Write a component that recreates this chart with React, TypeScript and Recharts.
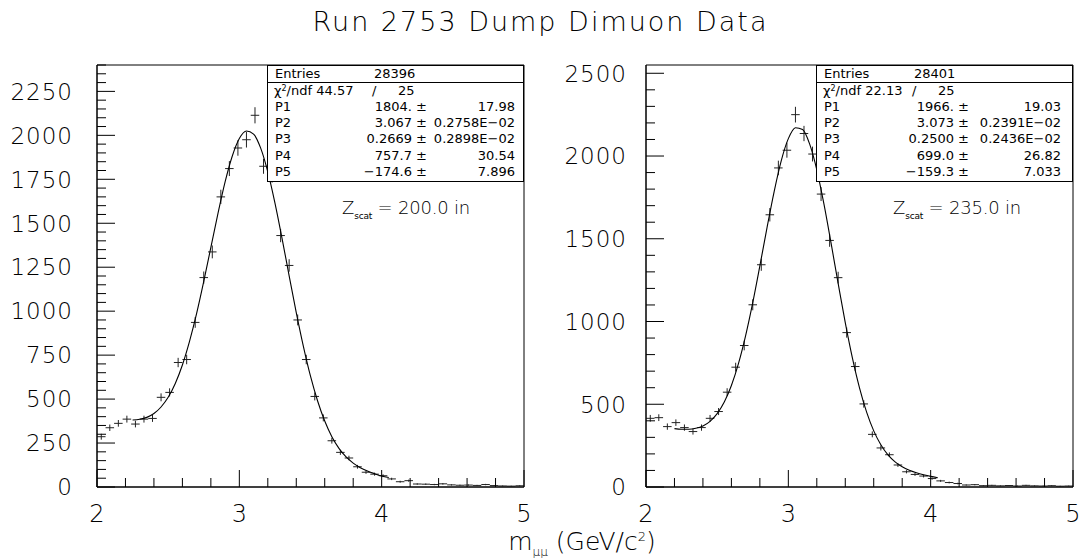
import React from 'react';
import {
  ComposedChart,
  Scatter,
  Line,
  XAxis,
  YAxis,
  ErrorBar,
  ReferenceArea,
} from 'recharts';

const FONT = '"DejaVu Sans", "Liberation Sans", sans-serif';

// bin centres of the m_mumu histogram (GeV/c^2), 0.06 wide bins
const binCenters = [
  2.03, 2.09, 2.15, 2.21, 2.27, 2.33, 2.39, 2.45, 2.51, 2.57,
  2.63, 2.69, 2.75, 2.81, 2.87, 2.93, 2.99, 3.05, 3.11, 3.17,
  3.23, 3.29, 3.35, 3.41, 3.47, 3.53, 3.59, 3.65, 3.71, 3.77,
  3.83, 3.89, 3.95, 4.01, 4.07, 4.13, 4.19, 4.25, 4.31, 4.37,
  4.43, 4.49, 4.55, 4.61, 4.67, 4.73, 4.79, 4.85, 4.91, 4.97,
];

// Z_scat = 200 in
const countsZ200 = [
  286, 337, 362, 386, 358, 386, 390, 510, 538, 708,
  725, 936, 1191, 1337, 1650, 1811, 1928, 1975, 2114, 1824,
  1773, 1430, 1260, 950, 725, 515, 393, 263, 197, 165,
  115, 84, 73, 64, 46, 30, 36, 17, 16, 14,
  18, 12, 10, 11, 9, 14, 8, 6, 5, 7,
];

// Z_scat = 235 in
const countsZ235 = [
  415, 419, 365, 389, 359, 335, 359, 415, 456, 573,
  724, 855, 1101, 1343, 1645, 1928, 2035, 2250, 2136, 2012,
  1770, 1490, 1265, 933, 728, 502, 318, 236, 195, 133,
  92, 76, 66, 51, 37, 27, 21, 12, 14, 8,
  10, 7, 9, 6, 10, 7, 6, 8, 5, 6,
];

// fitted curves
const fitXZ200 = [
  2.25, 2.3, 2.35, 2.4, 2.45, 2.5, 2.55, 2.6, 2.65, 2.7,
  2.75, 2.8, 2.85, 2.9, 2.95, 3.0, 3.05, 3.1, 3.15, 3.2,
  3.25, 3.3, 3.35, 3.4, 3.45, 3.5, 3.55, 3.6, 3.65, 3.7,
  3.75, 3.8, 3.85, 3.9, 3.95, 4.0, 4.05,
];
const fitZ200 = [
  381, 385, 396, 418, 455, 510, 589, 694, 828, 987,
  1169, 1363, 1556, 1735, 1881, 1982, 2025, 2007, 1927, 1792,
  1616, 1414, 1201, 992, 800, 630, 489, 375, 286, 220,
  171, 136, 110, 91, 76, 63, 54,
];
const fitXZ235 = [
  2.2, 2.25, 2.3, 2.35, 2.4, 2.45, 2.5, 2.55, 2.6, 2.65,
  2.7, 2.75, 2.8, 2.85, 2.9, 2.95, 3.0, 3.05, 3.1, 3.15,
  3.2, 3.25, 3.3, 3.35, 3.4, 3.45, 3.5, 3.55, 3.6, 3.65,
  3.7, 3.75, 3.8, 3.85, 3.9, 3.95, 4.0, 4.05,
];
const fitZ235 = [
  353, 349, 349, 355, 369, 397, 443, 513, 613, 747,
  915, 1114, 1336, 1566, 1784, 1971, 2105, 2171, 2160, 2072,
  1917, 1711, 1475, 1230, 993, 780, 599, 452, 339, 255,
  194, 152, 122, 101, 86, 74, 64, 56,
];

const xTicks = [
  2, 2.2, 2.4, 2.6, 2.8, 3, 3.2, 3.4, 3.6, 3.8,
  4, 4.2, 4.4, 4.6, 4.8, 5,
];
const xMajor = [2, 3, 4, 5];
const yMajorZ200 = [0, 250, 500, 750, 1000, 1250, 1500, 1750, 2000, 2250];
const yMajorZ235 = [0, 500, 1000, 1500, 2000, 2500];

const statsZ200 = {
  entries: '28396',
  chi2: '44.57',
  ndf: '25',
  params: [
    ['P1', '1804. ±', '17.98'],
    ['P2', '3.067 ±', '0.2758E−02'],
    ['P3', '0.2669 ±', '0.2898E−02'],
    ['P4', '757.7 ±', '30.54'],
    ['P5', '−174.6 ±', '7.896'],
  ],
};
const statsZ235 = {
  entries: '28401',
  chi2: '22.13',
  ndf: '25',
  params: [
    ['P1', '1966. ±', '19.03'],
    ['P2', '3.073 ±', '0.2391E−02'],
    ['P3', '0.2500 ±', '0.2436E−02'],
    ['P4', '699.0 ±', '26.82'],
    ['P5', '−159.3 ±', '7.033'],
  ],
};

const HALF_BIN = 0.03;

const YTick = (props: any) => {
  const { x, y, payload, majors, gap } = props;
  const isMajor = majors.includes(payload.value);
  return (
    <g>
      <line x1={x} x2={x + (isMajor ? 18 : 9)} y1={y} y2={y} stroke="#000" strokeWidth={1} />
      {isMajor && (
        <text
          x={x - gap}
          y={y}
          dy="0.36em"
          textAnchor="end"
          fontFamily={FONT}
          fontWeight={200}
          fontSize={23}
          letterSpacing={1}
          fill="#000"
        >
          {payload.value}
        </text>
      )}
    </g>
  );
};

const XTick = (props: any) => {
  const { x, y, payload } = props;
  const isMajor = xMajor.includes(payload.value);
  return (
    <g>
      <line x1={x} x2={x} y1={y} y2={y - (isMajor ? 17 : 9)} stroke="#000" strokeWidth={1} />
      {isMajor && (
        <text
          x={x}
          y={y + 26}
          dy="0.36em"
          textAnchor="middle"
          fontFamily={FONT}
          fontWeight={200}
          fontSize={24}
          fill="#000"
        >
          {payload.value}
        </text>
      )}
    </g>
  );
};

const Panel = ({ counts, fitX, fit, yMax, yMajor, yStep, left, width, marginLeft, marginRight, gap }: any) => {
  const points = binCenters.map((x, i) => ({
    x,
    y: counts[i],
    ey: Math.sqrt(counts[i]),
    ex: HALF_BIN,
  }));
  const curve = fitX.map((x: number, i: number) => ({ x, y: fit[i] }));
  const yTicks: number[] = [];
  for (let v = 0; v <= yMax; v += yStep) yTicks.push(v);

  return (
    <div style={{ position: 'absolute', left, top: 0 }}>
      <ComposedChart
        width={width}
        height={558}
        margin={{ top: 65, right: marginRight, bottom: 41, left: marginLeft }}
      >
        <XAxis
          type="number"
          dataKey="x"
          domain={[2, 5]}
          ticks={xTicks}
          interval={0}
          tickSize={0}
          tickMargin={0}
          height={30}
          axisLine={{ stroke: '#000' }}
          tick={(p: any) => <XTick {...p} />}
          allowDataOverflow
        />
        <YAxis
          type="number"
          domain={[0, yMax]}
          ticks={yTicks}
          interval={0}
          tickSize={0}
          tickMargin={0}
          width={60}
          axisLine={{ stroke: '#000' }}
          tick={(p: any) => <YTick {...p} majors={yMajor} gap={gap} />}
          allowDataOverflow
        />
        <ReferenceArea x1={2} x2={5} y1={0} y2={yMax} fill="none" stroke="#000" strokeWidth={1} />
        <Scatter data={points} dataKey="y" isAnimationActive={false} shape={() => <g />}>
          <ErrorBar dataKey="ey" direction="y" width={0} stroke="#222" strokeWidth={1} isAnimationActive={false} />
          <ErrorBar dataKey="ex" direction="x" width={0} stroke="#222" strokeWidth={1} isAnimationActive={false} />
        </Scatter>
        <Line
          data={curve}
          dataKey="y"
          type="monotone"
          dot={false}
          stroke="#000"
          strokeWidth={1.1}
          isAnimationActive={false}
        />
      </ComposedChart>
    </div>
  );
};

const StatsBox = ({ stats, left, entriesX, valueRight, errRight }: any) => {
  const fontStyle: React.CSSProperties = {
    fontFamily: FONT,
    fontSize: 13,
    color: '#000',
    position: 'absolute',
    whiteSpace: 'nowrap',
    lineHeight: '16px',
  };
  const rowTop = (i: number) => 16.5 + i * 16.3;
  return (
    <div
      style={{
        position: 'absolute',
        left,
        top: 65,
        width: 257,
        height: 117,
        border: '1px solid #000',
        boxSizing: 'border-box',
        background: '#fff',
      }}
    >
      <div style={{ position: 'absolute', left: 0, right: 0, top: 16, borderTop: '1px solid #000' }} />
      <span style={{ ...fontStyle, left: 7, top: 0 }}>Entries</span>
      <span style={{ ...fontStyle, left: entriesX, top: 0 }}>{stats.entries}</span>
      <span style={{ ...fontStyle, left: 6, top: rowTop(0) }}>
        χ<sup style={{ fontSize: 8, verticalAlign: 'top', lineHeight: '12px' }}>2</sup>/ndf {stats.chi2}
      </span>
      <span style={{ ...fontStyle, left: entriesX - 2, top: rowTop(0) }}>/</span>
      <span style={{ ...fontStyle, left: entriesX + 24, top: rowTop(0) }}>{stats.ndf}</span>
      {stats.params.map((p: string[], i: number) => (
        <React.Fragment key={p[0]}>
          <span style={{ ...fontStyle, left: 7, top: rowTop(i + 1) }}>{p[0]}</span>
          <span style={{ ...fontStyle, right: 257 - valueRight, top: rowTop(i + 1) }}>{p[1]}</span>
          <span style={{ ...fontStyle, right: 257 - errRight, top: rowTop(i + 1) }}>{p[2]}</span>
        </React.Fragment>
      ))}
    </div>
  );
};

const ZLabel = ({ left, value }: any) => (
  <div
    style={{
      position: 'absolute',
      left,
      top: 197,
      fontFamily: FONT,
      fontWeight: 200,
      fontSize: 18,
      letterSpacing: -0.2,
      whiteSpace: 'nowrap',
      color: '#000',
    }}
  >
    Z<sub style={{ fontSize: 9, fontWeight: 400 }}>scat</sub> = {value} in
  </div>
);

export default function App() {
  return (
    <div
      style={{
        position: 'absolute',
        left: 0,
        top: 0,
        width: 1081,
        height: 558,
        background: '#fff',
        overflow: 'hidden',
      }}
    >
      <div
        style={{
          position: 'absolute',
          left: 0,
          width: 1081,
          top: 6,
          textAlign: 'center',
          fontFamily: FONT,
          fontWeight: 200,
          fontSize: 27,
          letterSpacing: 2,
          color: '#000',
        }}
      >
        Run 2753 Dump Dimuon Data
      </div>
      <Panel
        counts={countsZ200}
        fitX={fitXZ200}
        fit={fitZ200}
        yMax={2400}
        yMajor={yMajorZ200}
        yStep={50}
        left={0}
        width={540}
        marginLeft={37}
        marginRight={16}
        gap={24}
      />
      <Panel
        counts={countsZ235}
        fitX={fitXZ235}
        fit={fitZ235}
        yMax={2550}
        yMajor={yMajorZ235}
        yStep={100}
        left={540}
        width={541}
        marginLeft={46}
        marginRight={8}
        gap={19}
      />
      <StatsBox stats={statsZ200} left={267} entriesX={106} valueRight={161} errRight={249} />
      <StatsBox stats={statsZ235} left={816} entriesX={97} valueRight={154} errRight={246} />
      <ZLabel left={342} value="200.0" />
      <ZLabel left={893} value="235.0" />
      <div
        style={{
          position: 'absolute',
          left: 0,
          width: 1164,
          top: 527,
          textAlign: 'center',
          fontFamily: FONT,
          fontWeight: 200,
          fontSize: 25,
          color: '#000',
          whiteSpace: 'nowrap',
        }}
      >
        m<sub style={{ fontSize: 12 }}>μμ</sub> (GeV/c<sup style={{ fontSize: 13 }}>2</sup>)
      </div>
    </div>
  );
}
